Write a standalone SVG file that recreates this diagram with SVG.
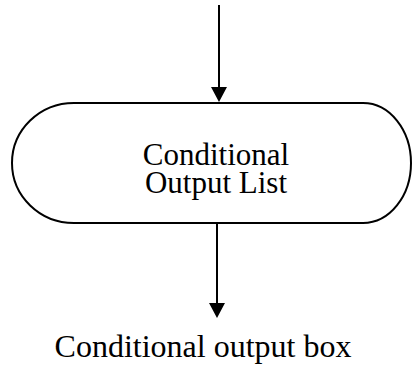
<svg xmlns="http://www.w3.org/2000/svg" width="412" height="367" viewBox="0 0 412 367">
<style>
.t{font-family:"Liberation Serif","Times New Roman",serif;font-size:31px;fill:#000;text-anchor:middle}
.c{stroke:#000;stroke-width:2;fill:none}
.h{fill:#000;stroke:none}
</style>
<rect width="412" height="367" fill="#fff"/>
<g id="terminator">
<path d="M75,103 H363 A48,60 0 0 1 363,223 H74 A62,60 0 0 1 74,103 Z" fill="#fff" stroke="#000" stroke-width="2"/>
<text class="t" x="217" y="165"><tspan x="216" y="165">Conditional</tspan><tspan x="216" y="193">Output List</tspan></text>
</g>
<g id="caption">
<text class="t" x="203" y="357" style="font-size:32px">Conditional output box</text>
</g>
<g id="connectors">
<line class="c" x1="219" y1="5" x2="219" y2="88"/>
<polygon class="h" points="211,87 227,87 219,102"/>
<line class="c" x1="217" y1="223" x2="217" y2="304"/>
<polygon class="h" points="209,303 225,303 217,318"/>
</g>
</svg>
